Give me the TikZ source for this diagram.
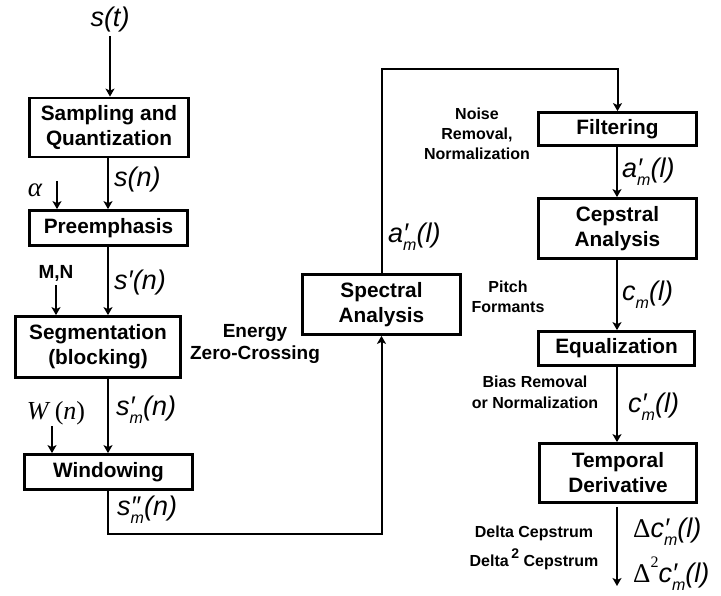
\documentclass[tikz,border=0pt]{standalone}
\usepackage{fontspec}
\setmainfont{Liberation Sans}
\newfontfamily\tmsfont{Liberation Serif}
\usetikzlibrary{arrows.meta}
\newcommand\subp[2]{\makebox[0pt][l]{#1}\raisebox{-0.3em}{\fontsize{16}{16}\selectfont\itshape #2}}
\begin{document}
\begin{tikzpicture}[x=1pt,y=-1pt,
 blk/.style={draw, line width=2.8pt, inner sep=0pt, align=center, font=\bfseries\fontsize{20.8}{25}\selectfont},
 conn/.style={line width=2pt, -{Stealth[length=8pt,width=9pt,inset=2pt]}},
 sig/.style={inner sep=0pt, anchor=west, font=\itshape\fontsize{27}{32}\selectfont},
 note/.style={inner sep=0pt, align=center, font=\bfseries\fontsize{16}{20}\selectfont}]
\useasboundingbox (0,0) rectangle (721,596);

% blocks
\node[blk, minimum width=159pt, minimum height=59pt] (samp) at (109,127.5) {Sampling and\\Quantization};
\node[blk, minimum width=158pt, minimum height=35pt] (pre) at (108.5,228) {Preemphasis};
\node[blk, minimum width=165pt, minimum height=61pt] (seg) at (98,347) {Segmentation\\(blocking)};
\node[blk, minimum width=168pt, minimum height=35pt] (win) at (108.5,472) {Windowing};
\node[blk, minimum width=158pt, minimum height=60pt] (spec) at (381.5,304.5) {Spectral\\Analysis};
\node[blk, minimum width=158pt, minimum height=33pt] (filt) at (617.5,129) {Filtering};
\node[blk, minimum width=158pt, minimum height=60pt] (ceps) at (617.5,228.5) {Cepstral\\Analysis};
\node[blk, minimum width=156pt, minimum height=34pt] (equ) at (616.5,348.5) {Equalization};
\node[blk, minimum width=157pt, minimum height=59pt] (temp) at (618,473) {Temporal\\Derivative};

% coordinates
\coordinate (cx) at (108,0);
\coordinate (rx) at (617,0);
\coordinate (boty) at (0,534);
\coordinate (topy) at (0,69);
\coordinate (alphas) at (57,181);
\coordinate (ws) at (52,426);
\coordinate (out) at (617,586);

% input
\node[inner sep=0pt, font=\itshape\fontsize{27}{32}\selectfont] (st) at (110,20) {s(t)};
\draw[conn, shorten <=3pt] (st.south) -- (st.south |- samp.north);

% left chain
\draw[conn] (samp.south -| cx) -- (pre.north -| cx);
\draw[conn] (pre.south -| cx) -- (seg.north -| cx);
\draw[conn] (seg.south -| cx) -- (win.north -| cx);
\draw[conn] (win.south -| cx) |- (spec.south |- boty) -- (spec.south);
\draw[conn] (spec.north) |- (filt.north |- topy) -- (filt.north);

% right chain
\draw[conn] (filt.south -| rx) -- (ceps.north -| rx);
\draw[conn] (ceps.south -| rx) -- (equ.north -| rx);
\draw[conn] (equ.south -| rx) -- (temp.north -| rx);
\draw[conn, shorten <=3pt] (temp.south -| rx) -- (out);

% side inputs
\node[inner sep=0pt, font=\tmsfont\itshape\fontsize{27}{32}\selectfont] (alpha) at (35,190) {α};
\draw[conn] (alphas) -- (alphas |- pre.north);
\node[inner sep=0pt, font=\bfseries\fontsize{19}{22}\selectfont] (mn) at (56,273) {M,N};
\draw[conn, shorten <=4pt] (mn.south) -- (mn.south |- seg.north);
\node[inner sep=0pt, font=\tmsfont\fontsize{26}{30}\selectfont] (wn) at (56,413) {\itshape W\/\upshape\,(\itshape n\upshape)};
\draw[conn] (ws) -- (ws |- win.north);

% signal labels
\node[sig] (sn) at (114,180) {s(n)};
\node[sig] (spn) at (114,283) {s′(n)};
\node[sig] (smn) at (116,410) {s\subp{′}{m}(n)};
\node[sig] (smmn) at (117,510) {s\subp{″}{m}(n)};
\node[sig] (aml1) at (388,237) {a\subp{′}{m}(l)};
\node[sig] (aml2) at (622,172) {a\subp{′}{m}(l)};
\node[sig] (cml) at (622,295) {c\subp{}{m}(l)};
\node[sig] (cpml) at (628,407) {c\subp{′}{m}(l)};
\node[sig] (dc1) at (633,532) {{\tmsfont\upshape Δ}c\subp{′}{m}(l)};
\node[sig] (dc2) at (633,574) {{\tmsfont\upshape Δ}\raisebox{0.55em}{\tmsfont\upshape\fontsize{16}{16}\selectfont 2}c\subp{′}{m}(l)};

% notes
\node[note, font=\bfseries\fontsize{19}{22}\selectfont] (energy) at (255,344) {Energy\\Zero-Crossing};
\node[note] (noise) at (477,134) {Noise\\Removal,\\Normalization};
\node[note] (pitch) at (508,297) {Pitch\\Formants};
\node[note, font=\bfseries\fontsize{16}{21}\selectfont] (bias) at (535,392) {Bias Removal\\or Normalization};
\node[note] (delta) at (534,548) {Delta Cepstrum\\[7pt]Delta\,\raisebox{0.5em}{\fontsize{14}{14}\selectfont 2} Cepstrum};
\end{tikzpicture}
\end{document}
